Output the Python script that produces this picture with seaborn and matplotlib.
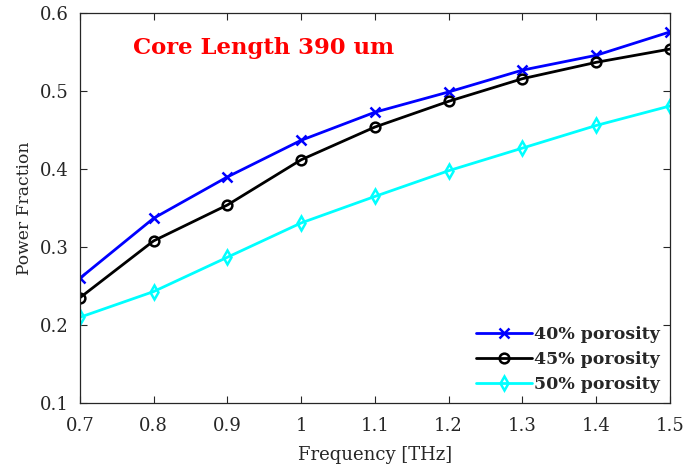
import numpy as np
import pandas as pd
import seaborn as sns
import matplotlib.pyplot as plt

freq = [0.7, 0.8, 0.9, 1.0, 1.1, 1.2, 1.3, 1.4, 1.5]
p40 = [0.260, 0.337, 0.390, 0.437, 0.473, 0.499, 0.527, 0.546, 0.576]
p45 = [0.235, 0.308, 0.354, 0.412, 0.454, 0.487, 0.516, 0.537, 0.554]
p50 = [0.210, 0.243, 0.287, 0.331, 0.365, 0.398, 0.427, 0.456, 0.481]
labels = ["40% porosity", "45% porosity", "50% porosity"]
colors = ["#0000ff", "#000000", "#00ffff"]
markers = ["x", "o", "d"]

sns.set_style("ticks")
plt.rcParams["font.family"] = ["DejaVu Serif"]

fig = plt.figure(figsize=(7, 4.72), dpi=100)
ax = fig.add_axes([0.114, 0.146, 0.843, 0.826])

for vals, lab, c, m in zip([p40, p45, p50], labels, colors, markers):
    sns.lineplot(x=freq, y=vals, color=c, marker=m, label=lab,
                 linewidth=2.0, markersize=7, markerfacecolor="none",
                 markeredgecolor=c, markeredgewidth=1.8, ax=ax)

ax.set_xlim(0.7, 1.5)
ax.set_ylim(0.1, 0.6)
ax.set_xticks(freq)
ax.set_xticklabels(["0.7", "0.8", "0.9", "1", "1.1", "1.2", "1.3", "1.4", "1.5"])
ax.set_yticks([0.1, 0.2, 0.3, 0.4, 0.5, 0.6])
ax.set_yticklabels(["0.1", "0.2", "0.3", "0.4", "0.5", "0.6"])
ax.tick_params(direction="in", top=True, right=True, labelsize=13,
               colors="#262626", length=5, width=0.8)
ax.tick_params(axis="x", pad=10)
ax.tick_params(axis="y", pad=8)
for s in ax.spines.values():
    s.set_color("#262626")
    s.set_linewidth(0.9)

ax.set_xlabel("Frequency [THz]", fontsize=13, color="#262626", labelpad=8)
ax.set_ylabel("Power Fraction", fontsize=12.3, color="#262626", labelpad=5)

ax.text(0.772, 0.556, "Core Length 390 um", color="red", fontsize=16.4,
        fontweight="bold", va="center", ha="left")

leg = ax.legend(loc="lower right", frameon=False, handlelength=3.2,
                prop={"weight": "bold", "size": 12.5}, borderaxespad=0.4,
                handletextpad=0.1, labelspacing=0.45, borderpad=0.2)

fig.savefig("out.png", dpi=100)
